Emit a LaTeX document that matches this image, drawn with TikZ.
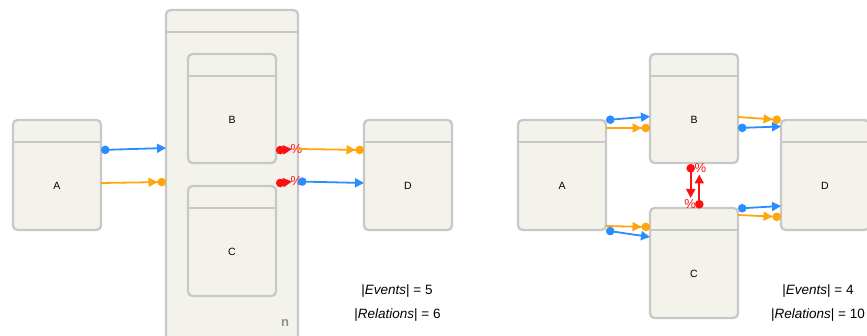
\documentclass[tikz,border=0pt]{standalone}
\usepackage{fontspec}
\setmainfont{Liberation Sans}
\usetikzlibrary{arrows.meta}

\definecolor{boxfill}{HTML}{F4F3EB}
\definecolor{boxline}{HTML}{C8C8C8}
\definecolor{evblue}{HTML}{2A8CFF}
\definecolor{evorange}{HTML}{FFA60D}
\definecolor{evred}{HTML}{FF1010}
\definecolor{reptext}{HTML}{909090}

\begin{document}
\begin{tikzpicture}[x=1pt,y=-1pt,
  box/.style={draw=boxline, fill=boxfill, line width=2.3pt, rounded corners=4.5pt,
    inner sep=0pt, outer sep=0pt, minimum width=88pt, minimum height=110pt,
    path picture={\draw[boxline, line width=2.3pt]
      ([yshift=-22pt]path picture bounding box.north west) --
      ([yshift=-22pt]path picture bounding box.north east);}},
  lbl/.style={font=\fontsize{10.5}{12}\selectfont, inner sep=0pt},
  stat/.style={font=\fontsize{13.5}{15}\selectfont, inner sep=0pt},
  pct/.style={font=\fontsize{13}{14}\selectfont, text=evred, inner sep=0pt},
  conn/.style={line width=1.8pt},
  dotarrow/.style={conn, {Circle[length=8.5pt]}-{Triangle[length=9pt,width=9pt]}},
  arrowdot/.style={conn, -{Triangle[length=9pt,width=9pt]Circle[length=8.5pt]}},
  redev/.style={conn, line width=2pt, evred, {Circle[length=8.5pt]}-{Triangle[length=9pt,width=9pt]}},
]
\useasboundingbox (0,0) rectangle (867,336);
\clip (0,0) rectangle (867,336);

% ---------------- left: repeated block ----------------
\node[box] (A) at (57,175) {};
\node[box, minimum width=132pt, minimum height=340pt] (N) at (232,180) {};
\node[box, minimum height=109pt] (B) at (232,108.5) {};
\node[box] (C) at (232,241) {};
\node[box] (D) at (408,175) {};

\node[lbl] (Alab) at ([yshift=-11pt]A.center) {A};
\node[lbl] (Blab) at ([yshift=-11pt]B.center) {B};
\node[lbl] (Clab) at ([yshift=-11pt]C.center) {C};
\node[lbl] (Dlab) at ([yshift=-11pt]D.center) {D};
\node[font=\bfseries\fontsize{13}{14}\selectfont, text=reptext, inner sep=0pt] (nlab) at (285,323) {n};

\draw[dotarrow, evblue] (A.east |- 0,150) -- (N.west |- 0,148);
\draw[arrowdot, evorange] (A.east |- 0,183) -- (N.west |- 0,182);

\coordinate (r1s) at (276,150.5);
\coordinate (r1e) at (292,149);
\coordinate (r2s) at (276,183.5);
\coordinate (r2e) at (292,181.5);
\draw[redev] (r1s) -- (r1e);
\draw[redev] (r2s) -- (r2e);
\node[pct] (p1) at (296.5,149) {\%};
\node[pct] (p2) at (296.5,181.5) {\%};

\draw[arrowdot, evorange] (N.east |- 0,149) -- (D.west |- 0,150);
\draw[dotarrow, evblue] (N.east |- 0,181.5) -- (D.west |- 0,183);

\node[stat] (ev1) at (397,291) {|\textit{Events}| = 5};
\node[stat] (rel1) at (397.5,315) {|\textit{Relations}| = 6};

% ---------------- right: unrolled block ----------------
\node[box] (A2) at (562,175) {};
\node[box, minimum height=109pt] (B2) at (694,108.5) {};
\node[box] (C2) at (694,263) {};
\node[box] (D2) at (825,175) {};

\node[lbl] (A2lab) at ([yshift=-11pt]A2.center) {A};
\node[lbl] (B2lab) at ([yshift=-11pt]B2.center) {B};
\node[lbl] (C2lab) at ([yshift=-11pt]C2.center) {C};
\node[lbl] (D2lab) at ([yshift=-11pt]D2.center) {D};

\draw[dotarrow, evblue] (A2.east |- 0,120) -- (B2.west |- 0,116.5);
\draw[arrowdot, evorange] (A2.east |- 0,128) -- (B2.west |- 0,128);
\draw[arrowdot, evorange] (A2.east |- 0,226) -- (C2.west |- 0,227);
\draw[dotarrow, evblue] (A2.east |- 0,230.5) -- (C2.west |- 0,237);

\draw[arrowdot, evorange] (B2.east |- 0,117) -- (D2.west |- 0,120);
\draw[dotarrow, evblue] (B2.east |- 0,128) -- (D2.west |- 0,126.5);
\draw[dotarrow, evblue] (C2.east |- 0,208.5) -- (D2.west |- 0,206);
\draw[arrowdot, evorange] (C2.east |- 0,215) -- (D2.west |- 0,217);

\coordinate (r3s) at (690.7,164);
\coordinate (r3e) at (690.7,198);
\coordinate (r4s) at (699.3,208.5);
\coordinate (r4e) at (699.3,174.5);
\draw[redev] (r3s) -- (r3e);
\draw[redev] (r4s) -- (r4e);
\node[pct] (p3) at (690.2,204.5) {\%};
\node[pct] (p4) at (700.5,168) {\%};

\node[stat] (ev2) at (818,291) {|\textit{Events}| = 4};
\node[stat] (rel2) at (818,315) {|\textit{Relations}| = 10};
\end{tikzpicture}
\end{document}
